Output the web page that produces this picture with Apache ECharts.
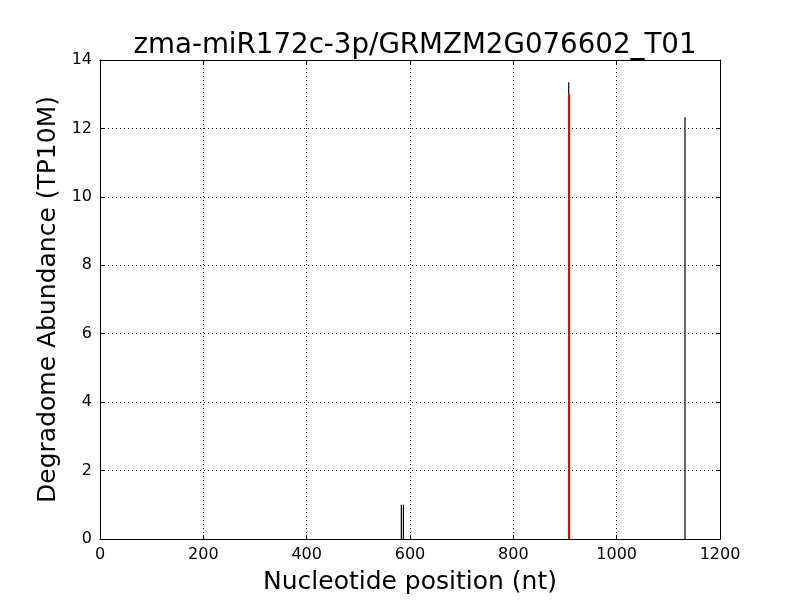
<!DOCTYPE html>
<html><head><meta charset="utf-8">
<script src="https://cdn.jsdelivr.net/npm/echarts@6/dist/echarts.min.js"></script>
<style>html,body{margin:0;padding:0;background:#fff}#c{width:800px;height:600px}</style>
</head><body><div id="c"></div>
<script>
var titleText = 'zma-miR172c-3p/GRMZM2G076602_T01';
var xLabel = 'Nucleotide position (nt)';
var yLabel = 'Degradome Abundance (TP10M)';
var positions = [584, 588, 908, 1133];
var abundances = [1, 1, 13.35, 12.33];
var targetPositions = [908];
var targetAbundances = [13];

var chart = echarts.init(document.getElementById('c'), null, {renderer: 'canvas'});
var font = 'DejaVu Sans';
var gridLine = {show: true, lineStyle: {color: '#000', type: [1, 3], width: 1}};
var plain = function(v){ return String(v); };
chart.setOption({
  animation: false,
  title: {text: titleText, left: 410, textAlign: 'center', top: 27, textStyle: {fontFamily: font, fontSize: 27.7, fontWeight: 'normal', color: '#000'}},
  grid: {left: 100, right: 80, top: 60, bottom: 60},
  xAxis: [{
    type: 'value', min: 0, max: 1200, interval: 200,
    name: xLabel, nameLocation: 'middle', nameGap: 31,
    nameTextStyle: {fontFamily: font, fontSize: 25, color: '#000'},
    axisLine: {show: true, onZero: false, lineStyle: {color: '#000', width: 1}},
    axisTick: {show: true, inside: true, length: 4, lineStyle: {color: '#000'}},
    axisLabel: {fontFamily: font, fontSize: 16, color: '#000', margin: 8, formatter: plain},
    splitLine: gridLine
  }, {
    type: 'value', min: 0, max: 1200, interval: 200, position: 'top',
    axisLine: {show: true, onZero: false, lineStyle: {color: '#000', width: 1}},
    axisTick: {show: true, inside: true, length: 4, lineStyle: {color: '#000'}},
    axisLabel: {show: false}, splitLine: {show: false}
  }],
  yAxis: [{
    type: 'value', min: 0, max: 14, interval: 2,
    name: yLabel, nameLocation: 'middle', nameGap: 35,
    nameTextStyle: {fontFamily: font, fontSize: 25, color: '#000'},
    axisLine: {show: true, onZero: false, lineStyle: {color: '#000', width: 1}},
    axisTick: {show: true, inside: true, length: 4, lineStyle: {color: '#000'}},
    axisLabel: {fontFamily: font, fontSize: 16, color: '#000', margin: 8, formatter: plain},
    splitLine: gridLine
  }, {
    type: 'value', min: 0, max: 14, interval: 2, position: 'right',
    axisLine: {show: true, onZero: false, lineStyle: {color: '#000', width: 1}},
    axisTick: {show: true, inside: true, length: 4, lineStyle: {color: '#000'}},
    axisLabel: {show: false}, splitLine: {show: false}
  }],
  series: [{
    type: 'bar', xAxisIndex: 0, yAxisIndex: 0, barWidth: 1.2, barGap: '-100%',
    itemStyle: {color: '#000'},
    data: positions.map(function(p, i){ return [p, abundances[i]]; }),
    z: 3
  }, {
    type: 'bar', xAxisIndex: 0, yAxisIndex: 0, barWidth: 2, barGap: '-100%',
    itemStyle: {color: '#ff0000'},
    data: targetPositions.map(function(p, i){ return [p, targetAbundances[i]]; }),
    z: 4
  }]
});
</script></body></html>
